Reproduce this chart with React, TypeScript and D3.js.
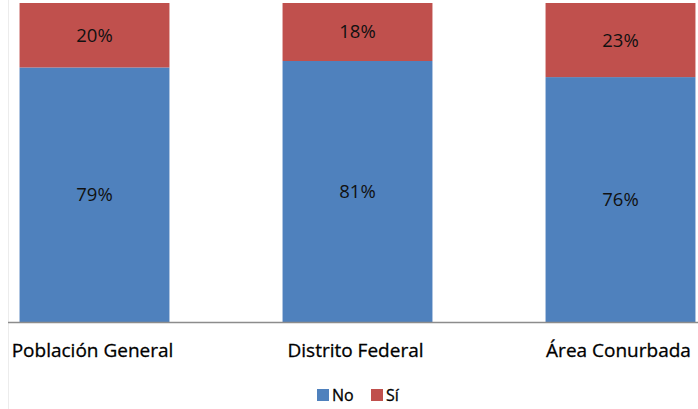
import React from "react";
import * as d3 from "d3";

const categories = ["Población General", "Distrito Federal", "Área Conurbada"];
const seriesNames = ["No", "Sí"];
const noValues = [79, 81, 76];
const siValues = [20, 18, 23];
const colors = ["#4F81BD", "#C0504D"];

const W = 698;
const H = 409;
const FONT = "'Open Sans', 'Noto Sans', sans-serif";

export default function App() {
  const rows = categories.map((c, i) => ({ cat: c, No: noValues[i], "Sí": siValues[i] }));
  const stack = d3.stack<any>().keys(seriesNames)(rows);
  const maxTotal = d3.max(rows, (r) => r.No + r["Sí"]) as number;

  const x = d3
    .scaleBand<string>()
    .domain(categories)
    .range([-37, 752])
    .paddingInner(0.43)
    .paddingOuter(0.215);
  const y = d3.scaleLinear().domain([0, maxTotal]).range([322, 3]);

  return (
    <svg
      width={W}
      height={H}
      style={{ position: "absolute", left: 0, top: 0, background: "#fff" }}
      fontFamily={FONT}
    >
      <line x1={8.5} x2={8.5} y1={0} y2={H} stroke="#ececec" strokeWidth={1} />
      {stack.map((layer, si) => (
        <g key={layer.key}>
          {layer.map((d, i) => {
            const x0 = x(categories[i]) as number;
            const y0 = y(d[1]);
            const y1 = y(d[0]);
            return (
              <g key={i}>
                <rect x={x0} y={y0} width={x.bandwidth()} height={y1 - y0} fill={colors[si]} />
                <text
                  x={x0 + x.bandwidth() / 2}
                  y={(y0 + y1) / 2}
                  dy="0.35em"
                  textAnchor="middle"
                  fontSize={18.5}
                  fill="#111"
                >
                  {`${d[1] - d[0]}%`}
                </text>
              </g>
            );
          })}
        </g>
      ))}
      <line x1={8} x2={W} y1={322.5} y2={322.5} stroke="#8c8c8c" strokeWidth={1.5} />
      {categories.map((c) => (
        <text
          key={c}
          x={(x(c) as number) + x.bandwidth() / 2 - 2}
          y={357}
          textAnchor="middle"
          fontSize={19}
          fill="#000"
          stroke="#000"
          strokeWidth={0.3}
        >
          {c}
        </text>
      ))}
      {seriesNames.map((s, i) => {
        const lx = i === 0 ? 317 : 371;
        return (
          <g key={s}>
            <rect x={lx} y={389} width={12} height={12} fill={colors[i]} />
            <text x={lx + 15} y={401} fontSize={16} fill="#000" stroke="#000" strokeWidth={0.3}>
              {s}
            </text>
          </g>
        );
      })}
    </svg>
  );
}
